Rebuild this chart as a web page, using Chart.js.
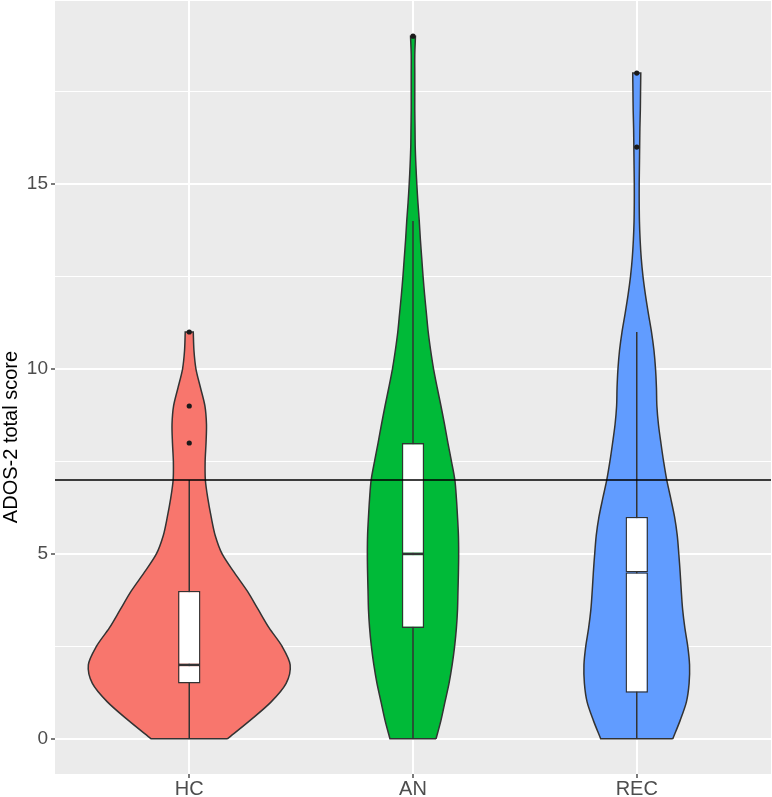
<!DOCTYPE html>
<html>
<head>
<meta charset="utf-8">
<script src="https://cdn.jsdelivr.net/npm/chart.js@4.4.1/dist/chart.umd.min.js"></script>
<style>
  html, body { margin: 0; padding: 0; background: #fff; }
</style>
</head>
<body>
<canvas id="chart" width="772" height="797"></canvas>
<script>
let groups = ['HC', 'AN', 'REC'];
let fills = ['#F8766D', '#00BA38', '#619CFF'];

// violin outlines: score level and half width (in group units)
let hcLevels = [0, 0.5, 1, 1.5, 2, 2.5, 3, 3.5, 4, 4.5, 5, 5.5, 6, 6.5, 7, 7.5, 8, 8.5, 9, 9.5, 10, 10.5, 11];
let hcWidth = [.170, .272, .366, .433, .451, .415, .357, .308, .259, .201, .147, .116, .098, .083, .072, .071, .075, .077, .070, .050, .030, .021, .018];

let anLevels = [0, 0.5, 1, 1.5, 2, 2.5, 3, 3.5, 4, 4.5, 5, 5.5, 6, 6.5, 7, 7.5, 8, 8.5, 9, 9.5,
                10, 10.5, 11, 11.5, 12, 12.5, 13, 13.5, 14, 14.5, 15, 15.5, 16, 16.5, 17, 17.5, 18, 18.5, 19];
let anWidth = [.103, .125, .143, .161, .175, .186, .194, .199, .201, .203, .204, .203, .199, .194, .187, .172, .156, .141, .125, .108,
               .092, .079, .068, .060, .052, .045, .039, .033, .028, .022, .017, .013, .010, .009, .008, .008, .008, .008, .011];

let recLevels = [0, 0.5, 1, 1.5, 2, 2.5, 3, 3.5, 4, 4.5, 5, 5.5, 6, 6.5, 7, 7.5, 8, 8.5, 9, 9.5,
                 10, 10.5, 11, 11.5, 12, 12.5, 13, 13.5, 14, 14.5, 15, 15.5, 16, 16.5, 17, 17.5, 18];
let recWidth = [.161, .194, .222, .234, .236, .228, .215, .205, .199, .194, .188, .181, .169, .152, .134, .120, .108, .097, .090, .088,
                .084, .077, .066, .052, .039, .028, .020, .015, .012, .011, .011, .012, .013, .014, .016, .017, .018];

// boxplot stats per group
let q1 = [1.5, 3, 1.25];
let medians = [2, 5, 4.5];
let q3 = [4, 8, 6];
let whiskerLow = [0, 0, 0];
let whiskerHigh = [7, 14, 11];
let outliers = [[8, 9, 11], [19], [16, 18]];

let cutoff = 7;
let yTicks = [0, 5, 10, 15];
let xMin = 0.4, xMax = 3.6;
let yMin = -0.95, yMax = 19.95;

let violins = [[hcLevels, hcWidth], [anLevels, anWidth], [recLevels, recWidth]];

// closed outline: right side up, left side down; corners doubled so they stay sharp
function violinPoints(pos, levels, widths) {
    let pts = [];
    let n = levels.length;
    for (let i = 0; i < n; i++) pts.push({x: pos + widths[i], y: levels[i]});
    pts.push({x: pos + widths[n - 1], y: levels[n - 1]});
    pts.push({x: pos - widths[n - 1], y: levels[n - 1]});
    for (let i = n - 1; i >= 0; i--) pts.push({x: pos - widths[i], y: levels[i]});
    pts.push({x: pos - widths[0], y: levels[0]});
    pts.push({x: pos + widths[0], y: levels[0]});
    return pts;
}

let datasets = [];

violins.forEach((v, i) => {
    datasets.push({
        type: 'scatter',
        data: violinPoints(i + 1, v[0], v[1]),
        showLine: true,
        fill: 'shape',
        backgroundColor: fills[i],
        borderColor: '#333333',
        borderWidth: 1.5,
        tension: 0.3,
        pointRadius: 0,
        order: 6
    });
});

let whiskerPts = [];
groups.forEach((g, i) => {
    whiskerPts.push({x: i + 1, y: whiskerLow[i]}, {x: i + 1, y: whiskerHigh[i]}, {x: i + 1, y: null});
});
datasets.push({
    type: 'scatter',
    data: whiskerPts,
    showLine: true,
    spanGaps: false,
    borderColor: '#333333',
    borderWidth: 1.5,
    pointRadius: 0,
    order: 5
});

let boxStyle = {
    type: 'bar',
    grouped: false,
    categoryPercentage: 1,
    barPercentage: 0.1,
    backgroundColor: '#FFFFFF',
    borderColor: '#333333',
    borderWidth: 1.4,
    borderSkipped: false,
    order: 4
};
datasets.push(Object.assign({data: groups.map((g, i) => ({x: i + 1, y: [q1[i], medians[i]]}))}, boxStyle));
datasets.push(Object.assign({data: groups.map((g, i) => ({x: i + 1, y: [medians[i], q3[i]]}))}, boxStyle));

let outlierPts = [];
outliers.forEach((list, i) => list.forEach(v => outlierPts.push({x: i + 1, y: v})));
datasets.push({
    type: 'scatter',
    data: outlierPts,
    pointRadius: 2.6,
    pointBackgroundColor: '#1A1A1A',
    pointBorderWidth: 0,
    order: 3
});

datasets.push({
    type: 'scatter',
    data: [{x: xMin, y: cutoff}, {x: xMax, y: cutoff}],
    showLine: true,
    borderColor: '#000000',
    borderWidth: 1.6,
    pointRadius: 0,
    order: 2
});

const panelBg = {
    id: 'panelBg',
    beforeDraw(chart) {
        const {ctx, chartArea: a} = chart;
        ctx.save();
        ctx.fillStyle = '#EBEBEB';
        ctx.fillRect(a.left, a.top, a.right - a.left, a.bottom - a.top);
        ctx.restore();
    }
};

const yTitle = {
    id: 'yTitle',
    afterDraw(chart) {
        const ctx = chart.ctx;
        ctx.save();
        ctx.translate(17, 437);
        ctx.rotate(-Math.PI / 2);
        ctx.font = '20px "Liberation Sans", Arial, sans-serif';
        ctx.fillStyle = '#000000';
        ctx.textAlign = 'center';
        ctx.textBaseline = 'alphabetic';
        ctx.fillText('ADOS-2 total score', 0, 0);
        ctx.restore();
    }
};

let fontFamily = '"Liberation Sans", Arial, sans-serif';

let violinChart = new Chart(document.getElementById('chart').getContext('2d'), {
    type: 'scatter',
    data: { datasets: datasets },
    options: {
        responsive: false,
        animation: false,
        events: [],
        layout: { autoPadding: false, padding: { top: 1, right: 1, left: 0, bottom: 0 } },
        plugins: { legend: { display: false }, tooltip: { enabled: false } },
        scales: {
            x: {
                type: 'linear',
                min: xMin,
                max: xMax,
                offset: false,
                afterBuildTicks: (scale) => { scale.ticks = groups.map((g, i) => ({value: i + 1})); },
                afterFit: (scale) => {
                    scale.height = 23;
                    scale.paddingLeft = 0;
                    scale.paddingRight = 0;
                },
                ticks: {
                    autoSkip: false,
                    maxRotation: 0,
                    padding: -1,
                    color: '#4D4D4D',
                    font: { family: fontFamily, size: 20 },
                    callback: (value, index) => groups[index]
                },
                grid: { offset: false, color: '#FFFFFF', lineWidth: 2, tickColor: '#333333', tickWidth: 1.3, tickLength: 4 },
                border: { display: false }
            },
            y: {
                type: 'linear',
                min: yMin,
                max: yMax,
                afterBuildTicks: (scale) => {
                    scale.ticks = yTicks.flatMap(v => [{value: v}, {value: v + 2.5}]);
                },
                afterFit: (scale) => {
                    scale.width = 55;
                    scale.paddingTop = 0;
                    scale.paddingBottom = 0;
                },
                ticks: {
                    autoSkip: false,
                    padding: 3,
                    color: '#4D4D4D',
                    font: { family: fontFamily, size: 19 },
                    callback: (value) => yTicks.includes(value) ? String(value) : ''
                },
                grid: {
                    color: '#FFFFFF',
                    lineWidth: (c) => (c.tick && yTicks.includes(c.tick.value)) ? 2 : 1,
                    tickColor: (c) => (c.tick && yTicks.includes(c.tick.value)) ? '#333333' : 'rgba(0,0,0,0)',
                    tickWidth: 1.3,
                    tickLength: 4
                },
                border: { display: false }
            }
        }
    },
    plugins: [panelBg, yTitle]
});
</script>
</body>
</html>
